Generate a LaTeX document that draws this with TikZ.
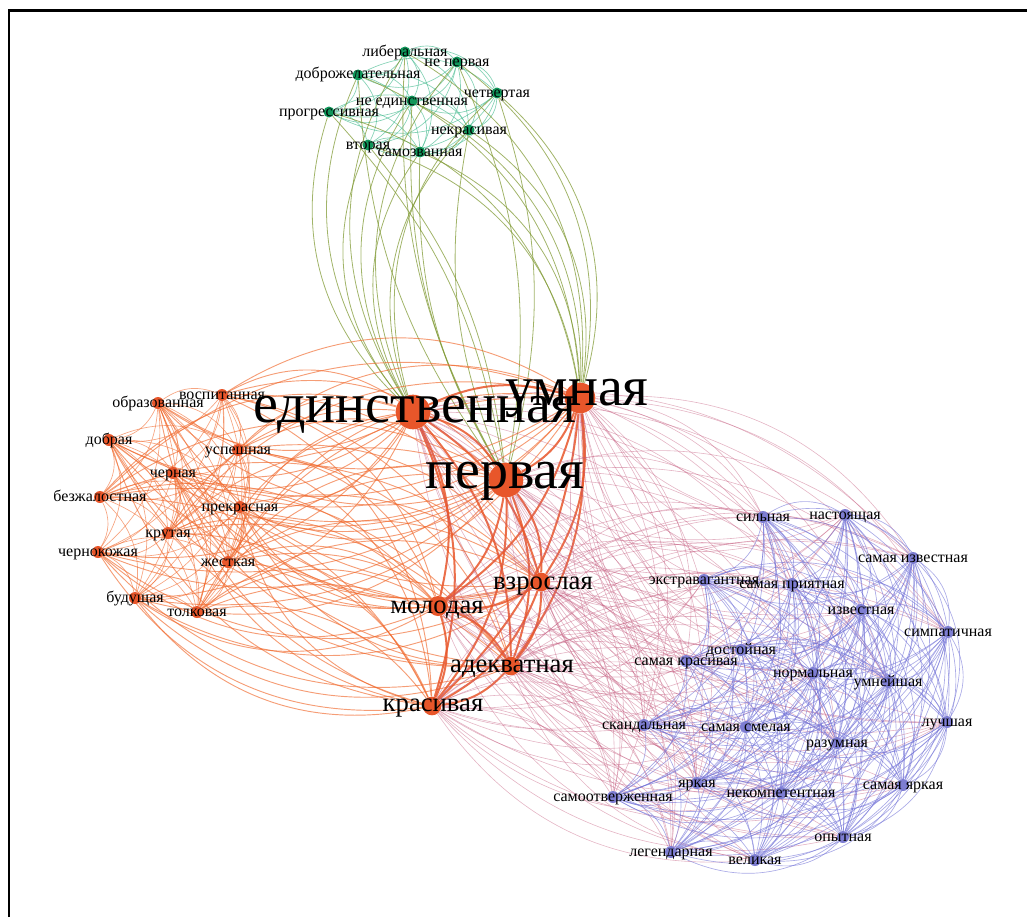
\documentclass[tikz,border=0pt]{standalone}
\usepackage{fontspec}
\setmainfont{Liberation Serif}
\usetikzlibrary{backgrounds}

\pgfdeclarelayer{labels}
\pgfsetlayers{background,main,labels}

\definecolor{gnode}{RGB}{16,150,90}
\definecolor{onode}{RGB}{232,86,42}
\definecolor{pnode}{RGB}{125,125,210}
\definecolor{gedge}{RGB}{80,190,150}
\definecolor{oledge}{RGB}{130,155,55}
\definecolor{oedge}{RGB}{240,105,45}
\definecolor{kedge}{RGB}{195,90,125}
\definecolor{pedge}{RGB}{115,115,215}

\tikzset{
  vtx/.style={circle,inner sep=0pt,minimum size=#1},
  gvtx/.style={vtx=8.25pt,fill=gnode},
  ovtx/.style={vtx=9pt,fill=onode},
  pvtx/.style={vtx=9pt,fill=pnode},
  bigvtx/.style={vtx=#1,fill=onode},
  small lbl/.style={font=\fontsize{12}{13}\selectfont,inner sep=0pt,anchor=base,yshift=-3pt},
  mid lbl/.style={font=\fontsize{20}{22}\selectfont,inner sep=0pt,anchor=base},
  big lbl/.style={font=\fontsize{42}{44}\selectfont,inner sep=0pt,anchor=base},
  gg/.style={draw=gedge,line width=0.5pt,draw opacity=0.7},
  gb/.style={draw=oledge,line width=0.6pt,draw opacity=0.75},
  oo/.style={draw=oedge,line width=0.5pt,draw opacity=0.6},
  ob/.style={draw=oedge,line width=0.7pt,draw opacity=0.65},
  bb/.style={draw=onode,line width=1.5pt,draw opacity=0.85},
  pp/.style={draw=pedge,line width=0.5pt,draw opacity=0.6},
  pb/.style={draw=kedge,line width=0.45pt,draw opacity=0.45}
}

\def\greenlist{lib,nper,dobr,chet,nedin,prog,nekr,vtor,samz}
\def\orangelist{obr,vosp,dobra,usp,chern,bezh,prekr,krut,chkozh,zhest,bud,tolk}
\def\biglist{edin,umn,perv,vzr,mol,adek,kras}
\def\purplelist{silna,nast,sizv,ekstr,sprij,izv,simp,dost,skras,norm,umnei,luch,skand,ssmel,razum,syark,yark,nekomp,samoot,opyt,legend,velik}

\begin{document}
\begin{tikzpicture}[x=0.75pt,y=-0.75pt]
\useasboundingbox (0,0) rectangle (1027,917);

% frame
\draw[line width=2.2pt] (9,917) -- (9,10.5) -- (1027,10.5);

% green group
\node[gvtx] (lib) at (405,52) {};
\node[gvtx] (nper) at (457,62) {};
\node[gvtx] (dobr) at (358,75) {};
\node[gvtx] (chet) at (497,93) {};
\node[gvtx] (nedin) at (412,101) {};
\node[gvtx] (prog) at (329,112) {};
\node[gvtx] (nekr) at (469,130) {};
\node[gvtx] (vtor) at (368,145) {};
\node[gvtx] (samz) at (420,152) {};

% big orange nodes
\node[bigvtx=26pt] (edin) at (413,412) {};
\node[bigvtx=23pt] (umn) at (580,398) {};
\node[bigvtx=26pt] (perv) at (506,480) {};
\node[bigvtx=14pt] (vzr) at (541,582) {};
\node[bigvtx=15pt] (mol) at (438,606) {};
\node[bigvtx=14pt] (adek) at (511,666) {};
\node[bigvtx=14pt] (kras) at (432,706) {};

% small orange nodes
\node[ovtx] (obr) at (158,403) {};
\node[ovtx] (vosp) at (222,395) {};
\node[ovtx] (dobra) at (109,440) {};
\node[ovtx] (usp) at (238,450) {};
\node[ovtx] (chern) at (173,473) {};
\node[ovtx] (bezh) at (100,497) {};
\node[ovtx] (prekr) at (240,507) {};
\node[ovtx] (krut) at (168,533) {};
\node[ovtx] (chkozh) at (98,552) {};
\node[ovtx] (zhest) at (228,562) {};
\node[ovtx] (bud) at (135,598) {};
\node[ovtx] (tolk) at (197,612) {};

% purple group
\node[pvtx] (silna) at (763,517) {};
\node[pvtx] (nast) at (845,515) {};
\node[pvtx] (sizv) at (913,558) {};
\node[pvtx] (ekstr) at (704,580) {};
\node[pvtx] (sprij) at (792,584) {};
\node[pvtx] (izv) at (861,610) {};
\node[pvtx] (simp) at (948,632) {};
\node[pvtx] (dost) at (741,650) {};
\node[pvtx] (skras) at (686,661) {};
\node[pvtx] (norm) at (813,673) {};
\node[pvtx] (umnei) at (888,682) {};
\node[pvtx] (luch) at (947,722) {};
\node[pvtx] (skand) at (644,725) {};
\node[pvtx] (ssmel) at (746,727) {};
\node[pvtx] (razum) at (837,743) {};
\node[pvtx] (syark) at (903,785) {};
\node[pvtx] (yark) at (697,783) {};
\node[pvtx] (nekomp) at (781,793) {};
\node[pvtx] (samoot) at (613,797) {};
\node[pvtx] (opyt) at (843,837) {};
\node[pvtx] (legend) at (671,852) {};
\node[pvtx] (velik) at (755,860) {};

\begin{pgfonlayer}{background}
  % inside the green group
  \foreach \a [count=\i] in \greenlist {
    \foreach \b [count=\j] in \greenlist {
      \ifnum\j>\i \draw[gg] (\a) to[bend left=35] (\b);\fi
    }
  }
  % green group down to the three big ones
  \foreach \a [count=\i, evaluate=\i as \bnd using {ifthenelse(mod(\i,2)==0,16,-16)}] in \greenlist {
    \draw[gb] (\a) to[bend right=32] (edin);
    \draw[gb] (\a) to[bend left=32] (umn);
    \draw[gb] (\a) to[bend left=\bnd] (perv);
  }
  % inside the left group
  \foreach \a [count=\i] in \orangelist {
    \foreach \b [count=\j] in \orangelist {
      \ifnum\j>\i \draw[oo] (\a) to[bend left=28] (\b);\fi
    }
  }
  % left group to the big ones
  \foreach \a [count=\i, evaluate=\i as \bnd using {ifthenelse(mod(\i,2)==0,32,-32)}] in \orangelist {
    \foreach \b in \biglist {
      \draw[ob] (\a) to[bend left=\bnd] (\b);
    }
  }
  % big ones together
  \foreach \a [count=\i] in \biglist {
    \foreach \b [count=\j] in \biglist {
      \ifnum\j>\i \draw[bb] (\a) to[bend left=20] (\b);\fi
    }
  }
  % purple group to the big ones
  \foreach \a [count=\i, evaluate=\i as \bnd using {ifthenelse(mod(\i,2)==0,30,-30)}] in \purplelist {
    \foreach \b in \biglist {
      \draw[pb] (\a) to[bend left=\bnd] (\b);
    }
  }
  % inside the purple group
  \foreach \a [count=\i] in \purplelist {
    \foreach \b [count=\j] in \purplelist {
      \ifnum\j>\i \draw[pp] (\a) to[bend left=32] (\b);\fi
    }
  }
\end{pgfonlayer}

\begin{pgfonlayer}{labels}
  \foreach \n/\t in {lib/либеральная, nper/не первая, dobr/доброжелательная,
      chet/четвертая, nedin/не единственная, prog/прогрессивная,
      nekr/некрасивая, vtor/вторая, samz/самозванная,
      obr/образованная, vosp/воспитанная, dobra/добрая, usp/успешная,
      chern/черная, bezh/безжалостная, prekr/прекрасная, krut/крутая,
      chkozh/чернокожая, zhest/жесткая, bud/будущая, tolk/толковая,
      silna/сильная, nast/настоящая, sizv/самая известная,
      ekstr/экстравагантная, sprij/самая приятная, izv/известная,
      simp/симпатичная, dost/достойная, skras/самая красивая,
      norm/нормальная, umnei/умнейшая, luch/лучшая, skand/скандальная,
      ssmel/самая смелая, razum/разумная, syark/самая яркая, yark/яркая,
      nekomp/некомпетентная, samoot/самоотверженная, opyt/опытная,
      legend/легендарная, velik/великая}
    \node[small lbl] (\n-t) at (\n) {\t};

  \node[big lbl] (edin-t) at (415,422) {единственная};
  \node[big lbl] (umn-t) at (577,405) {умная};
  \node[big lbl] (perv-t) at (505,488) {первая};
  \node[mid lbl] (vzr-t) at (543,589) {взрослая};
  \node[mid lbl] (mol-t) at (437,613) {молодая};
  \node[mid lbl] (adek-t) at (512,672) {адекватная};
  \node[mid lbl] (kras-t) at (433,711) {красивая};
\end{pgfonlayer}

\end{tikzpicture}
\end{document}
